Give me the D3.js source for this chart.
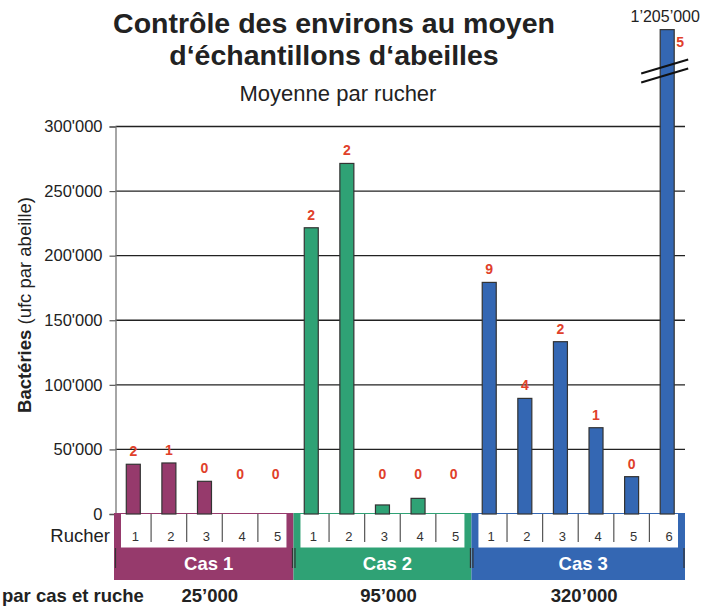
<!DOCTYPE html>
<html lang="fr">
<head>
<meta charset="UTF-8">
<title>Contrôle des environs au moyen d'échantillons d'abeilles</title>
<style>
  body { margin: 0; background: #fff; }
  svg { display: block; font-family: "Liberation Sans", Arial, Helvetica, sans-serif; }
  .grid line { stroke: #222; stroke-width: 1.3px; }
  .count { fill: #e0402a; font-weight: bold; font-size: 14px; text-anchor: middle; }
</style>
</head>
<body>
<svg id="chart" width="701" height="606"></svg>
<script src="https://d3js.org/d3.v7.min.js"></script>
<script>
// cases and their colours
const cases = ["Cas 1", "Cas 2", "Cas 3"];
const caseColors = ["#963a6c", "#2fa275", "#3467b3"];
// mean bacteria per hive (ufc par abeille)
const cas1Values = [38500, 39500, 25300, 0, 0];
const cas2Values = [221600, 271400, 7000, 12100, 0];
const cas3Values = [179300, 89500, 133400, 66800, 28900, 1205000];
// red numbers over the bars
const cas1Counts = [2, 1, 0, 0, 0];
const cas2Counts = [2, 2, 0, 0, 0];
const cas3Counts = [9, 4, 2, 1, 0, 5];
// mean per case
const caseMeans = ["25’000", "95’000", "320’000"];
const yTicks = [0, 50000, 100000, 150000, 200000, 250000, 300000];
const axisMax = 300000;
const barCap = 375000;   // the broken bar is drawn up to here
const breakAt = 343000;  // where the break marks sit

const allValues = [cas1Values, cas2Values, cas3Values];
const allCounts = [cas1Counts, cas2Counts, cas3Counts];

// flatten into slots
const slots = [];
allValues.forEach((vals, ci) => {
    vals.forEach((v, i) => {
        slots.push({ id: ci + "-" + i, cas: ci, ruche: i + 1, value: v, count: allCounts[ci][i] });
    });
});

const svg = d3.select("#chart");
const x = d3.scaleBand().domain(slots.map(d => d.id)).range([115.5, 685]).padding(0);
const y = d3.scaleLinear().domain([0, axisMax]).range([514, 126.5]);
const y0 = y(0);
const barW = 14;
const fmtTick = v => d3.format(",")(v).replace(/,/g, "'");

// title
svg.append("text").attr("x", 334).attr("y", 33).attr("text-anchor", "middle")
   .style("font-size", "28.5px").style("font-weight", "bold").attr("fill", "#222")
   .text("Contrôle des environs au moyen");
svg.append("text").attr("x", 334).attr("y", 65).attr("text-anchor", "middle")
   .style("font-size", "28.5px").style("font-weight", "bold").attr("fill", "#222")
   .text("d‘échantillons d‘abeilles");
svg.append("text").attr("x", 338).attr("y", 101).attr("text-anchor", "middle")
   .style("font-size", "22px").attr("fill", "#222")
   .text("Moyenne par rucher");

// gridlines
svg.append("g").attr("class", "grid")
   .selectAll("line").data(yTicks.filter(t => t > 0)).join("line")
   .attr("x1", 115.5).attr("x2", 685)
   .attr("y1", d => y(d)).attr("y2", d => y(d));

// y axis
const yAxis = svg.append("g").attr("transform", "translate(115.5,0)")
   .call(d3.axisLeft(y).tickValues(yTicks).tickFormat(fmtTick).tickSizeOuter(0).tickSize(6).tickPadding(7));
yAxis.select(".domain").attr("stroke", "#777").attr("stroke-width", 1.3);
yAxis.selectAll(".tick line").attr("stroke", "#555").attr("stroke-width", 1.2);
yAxis.selectAll(".tick text").style("font-size", "16.5px").attr("fill", "#222")
   .style("font-family", "'Liberation Sans', Arial, sans-serif");

// y title
const yt = svg.append("text").attr("transform", "translate(31,305) rotate(-90)")
   .attr("text-anchor", "middle").style("font-size", "18.5px").attr("fill", "#222");
yt.append("tspan").style("font-weight", "bold").text("Bactéries");
yt.append("tspan").text(" (ufc par abeille)");

// case bands under the axis
const bandTop = y0 - 1, bandBottom = y0 + 66;
cases.forEach((c, ci) => {
    const ids = slots.filter(d => d.cas === ci).map(d => d.id);
    const x0 = x(ids[0]) - (ci === 0 ? 1.5 : 0);
    const x1 = x(ids[ids.length - 1]) + x.bandwidth();
    const g = svg.append("g");
    g.append("rect").attr("x", x0).attr("y", bandTop).attr("width", x1 - x0).attr("height", bandBottom - bandTop)
     .attr("fill", caseColors[ci]);
    g.append("rect").attr("x", x0 + 7).attr("y", y0).attr("width", x1 - x0 - 14).attr("height", 33.5)
     .attr("fill", "#fff");
    // dividers between hives
    ids.slice(1).forEach(id => {
        g.append("line").attr("x1", x(id)).attr("x2", x(id)).attr("y1", y0).attr("y2", y0 + 28)
         .attr("stroke", "#555").attr("stroke-width", 1.2);
    });
    // small dark marks at the band edges
    [x0 + 1.5, x1 - 1].forEach(xx => {
        g.append("line").attr("x1", xx).attr("x2", xx).attr("y1", y0 + 34).attr("y2", y0 + 54)
         .attr("stroke", "#333").attr("stroke-width", 1.2);
    });
    g.append("text").attr("x", (x0 + x1) / 2 + 5).attr("y", y0 + 56).attr("text-anchor", "middle")
     .style("font-size", "18.5px").style("font-weight", "bold").attr("fill", "#fff").text(c);
    svg.append("text").attr("x", (x0 + x1) / 2 + 6).attr("y", 602).attr("text-anchor", "middle")
     .style("font-size", "18.5px").style("font-weight", "bold").attr("fill", "#222").text(caseMeans[ci]);
});

// hive numbers
svg.append("g").selectAll("text").data(slots).join("text")
   .attr("x", d => x(d.id) + x.bandwidth() / 2 + 2).attr("y", y0 + 27)
   .attr("text-anchor", "middle").style("font-size", "13px").attr("fill", "#333")
   .text(d => d.ruche);

svg.append("text").attr("x", 110).attr("y", 542).attr("text-anchor", "end")
   .style("font-size", "18.5px").attr("fill", "#222").text("Rucher");
svg.append("text").attr("x", 2).attr("y", 602)
   .style("font-size", "18.5px").style("font-weight", "bold").attr("fill", "#222").text("par cas et ruche");

// bars
const shown = v => Math.min(v, barCap);
svg.append("g").selectAll("rect").data(slots.filter(d => d.value > 0)).join("rect")
   .attr("x", d => x(d.id) + (x.bandwidth() - barW) / 2)
   .attr("y", d => y(shown(d.value)))
   .attr("width", barW)
   .attr("height", d => y0 - y(shown(d.value)))
   .attr("fill", d => caseColors[d.cas])
   .attr("stroke", "#333").attr("stroke-width", 1.2);

// counts
svg.append("g").selectAll("text").data(slots).join("text")
   .attr("class", "count")
   .attr("x", d => d.value > barCap ? x(d.id) + x.bandwidth() / 2 + 13 : x(d.id) + x.bandwidth() / 2)
   .attr("y", d => d.value > barCap ? y(barCap) + 17 : Math.min(y(d.value), y0 - 27) - 8)
   .text(d => d.count);

// broken bar marks and real value
slots.filter(d => d.value > barCap).forEach(d => {
    const cx = x(d.id) + x.bandwidth() / 2;
    const cy = y(breakAt);
    [-4.5, 4.5].forEach(off => {
        svg.append("line")
           .attr("x1", cx - 26).attr("y1", cy + off + 7)
           .attr("x2", cx + 21).attr("y2", cy + off - 7)
           .attr("stroke", "#111").attr("stroke-width", 2);
    });
    svg.append("text").attr("x", cx - 2).attr("y", y(barCap) - 8).attr("text-anchor", "middle")
       .style("font-size", "16px").attr("fill", "#222")
       .text(d3.format(",")(d.value).replace(/,/g, "’"));
});
</script>
</body>
</html>
